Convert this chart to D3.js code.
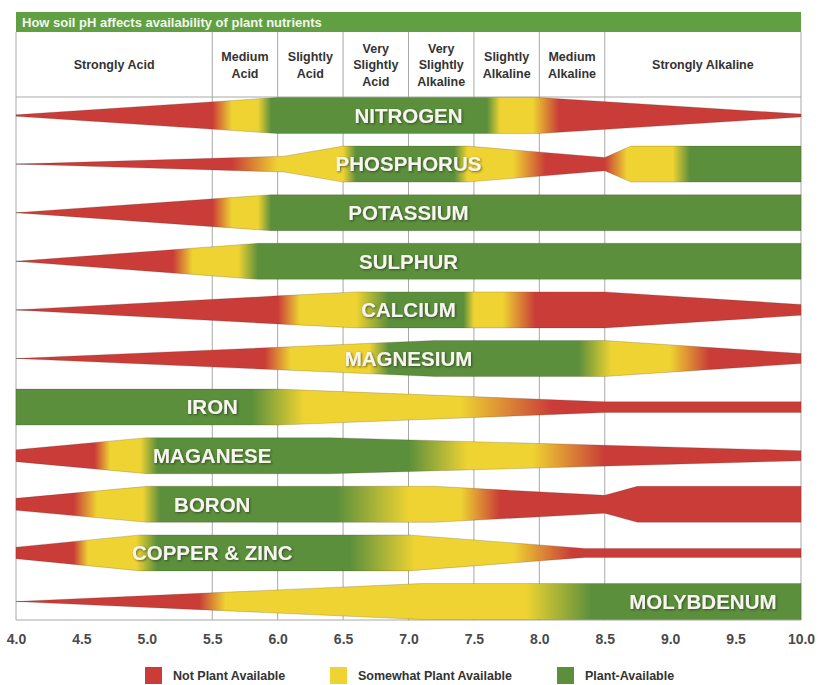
<!DOCTYPE html>
<html><head><meta charset="utf-8">
<script src="https://cdn.jsdelivr.net/npm/d3@7"></script>
<style>body{margin:0;background:#fff}svg{display:block;font-family:"Liberation Sans",Arial,sans-serif}</style>
</head><body><svg id="c" width="820" height="685"></svg>
<script>
const title = "How soil pH affects availability of plant nutrients";
const zoneLabels = [["Strongly Acid"],["Medium","Acid"],["Slightly","Acid"],["Very","Slightly","Acid"],["Very","Slightly","Alkaline"],["Slightly","Alkaline"],["Medium","Alkaline"],["Strongly Alkaline"]];
const zoneBounds = [4,5.5,6,6.5,7,7.5,8,8.5,10];
const phTicks = [4,4.5,5,5.5,6,6.5,7,7.5,8,8.5,9,9.5,10];
const nutrients = ["NITROGEN","PHOSPHORUS","POTASSIUM","SULPHUR","CALCIUM","MAGNESIUM","IRON","MAGANESE","BORON","COPPER & ZINC","MOLYBDENUM"];
const labelPH = [7,7,7,7,7,7,5.5,5.5,5.5,5.5,9.25];
// band thickness profile: [pH, relative thickness]
const widthProfiles = [
  [[4,0.04],[6,1],[8,1],[10,0.08]],
  [[4,0],[6.05,0.44],[6.5,1],[7.45,1],[8.5,0.37],[8.7,1],[10,1]],
  [[4,0],[5.95,1],[10,1]],
  [[4,0],[5.85,1],[10,1]],
  [[4,0],[6,0.78],[6.6,1],[8.5,1],[10,0.3]],
  [[4,0],[7.2,1],[8.5,1],[10,0.28]],
  [[4,1],[6,1],[8.5,0.3],[10,0.3]],
  [[4,0.33],[5,1],[6.4,1],[10,0.28]],
  [[4,0.33],[5,1],[7.2,1],[8.5,0.5],[8.75,1],[10,1]],
  [[4,0.32],[4.95,1],[7,1],[8.35,0.25],[10,0.25]],
  [[4,0],[7.1,1],[10,1]]
];
// availability along pH: [pH, class] 0 = not, 1 = somewhat, 2 = available
const availability = [
  [[4,0],[5.5,0],[5.65,1],[5.85,1],[5.95,2],[7.6,2],[7.7,1],[7.95,1],[8.15,0],[10,0]],
  [[4,0],[5.65,0],[6.0,1],[6.5,1],[6.6,2],[7.35,2],[7.45,1],[7.8,1],[8.05,0],[8.5,0],[8.67,1],[9.02,1],[9.15,2],[10,2]],
  [[4,0],[5.5,0],[5.65,1],[5.85,1],[5.95,2],[10,2]],
  [[4,0],[5.2,0],[5.35,1],[5.7,1],[5.85,2],[10,2]],
  [[4,0],[6.0,0],[6.17,1],[6.6,1],[6.85,2],[7.42,2],[7.5,1],[7.72,1],[7.97,0],[10,0]],
  [[4,0],[5.9,0],[6.1,1],[6.7,1],[6.85,2],[8.3,2],[8.55,1],[9.0,1],[9.3,0],[10,0]],
  [[4,2],[5.8,2],[6.2,1],[7.4,1],[8.1,0],[10,0]],
  [[4,0],[4.6,0],[4.72,1],[4.95,1],[5.08,2],[7.0,2],[7.45,1],[7.95,1],[8.5,0],[10,0]],
  [[4,0],[4.44,0],[4.62,1],[4.97,1],[5.1,2],[6.45,2],[7.0,1],[7.4,1],[7.7,0],[10,0]],
  [[4,0],[4.44,0],[4.55,1],[4.92,1],[5.08,2],[6.55,2],[7.05,1],[7.8,1],[8.25,0],[10,0]],
  [[4,0],[5.4,0],[5.6,1],[7.9,1],[8.4,2],[10,2]]
];
const classes = ["Not Plant Available","Somewhat Plant Available","Plant-Available"];
const classColors = ["#c93c38","#eed332","#5b8f3c"];

const svg = d3.select("#c");
const x = d3.scaleLinear().domain([4,10]).range([16,801]);
const y = d3.scalePoint().domain(nutrients).range([115.5,601.5]);
const hw = d3.scaleLinear().domain([0,1]).range([0,18]);
const headTop = 32, headBot = 97, plotBot = 620;
const gridCol = "#a8a8a8";

const defs = svg.append("defs");
const f = defs.append("filter").attr("id","sh").attr("x","-10%").attr("y","-30%").attr("width","120%").attr("height","160%");
f.append("feDropShadow").attr("dx",1).attr("dy",1).attr("stdDeviation",1).attr("flood-color","#222").attr("flood-opacity",0.6);

// title bar
svg.append("rect").attr("x",x(4)).attr("y",12).attr("width",x(10)-x(4)).attr("height",headTop-12).attr("fill","#60a042");
svg.append("text").attr("x",x(4)+6).attr("y",22.5).attr("dy","0.35em").attr("fill","#f2f6ee")
  .attr("font-size",13).attr("font-weight","bold").text(title);

// grid
const g = svg.append("g").attr("stroke",gridCol).attr("stroke-width",1).attr("fill","none");
g.selectAll("line.v").data(zoneBounds).join("line")
  .attr("x1",d=>x(d)).attr("x2",d=>x(d)).attr("y1",headTop).attr("y2",plotBot);
g.selectAll("line.h").data([headBot, plotBot]).join("line").attr("class","h")
  .attr("x1",x(4)).attr("x2",x(10)).attr("y1",d=>d).attr("y2",d=>d);
g.selectAll("line.r").data(nutrients).join("line").attr("class","r")
  .attr("x1",x(4)).attr("x2",x(10)).attr("y1",d=>y(d)).attr("y2",d=>y(d));

// header labels
zoneLabels.forEach((lines,i)=>{
  const cx = (x(zoneBounds[i])+x(zoneBounds[i+1]))/2;
  const t = svg.append("text").attr("x",cx).attr("text-anchor","middle").attr("fill","#333")
    .attr("font-size",12.5).attr("font-weight","bold");
  lines.forEach((l,j)=>{
    t.append("tspan").attr("x",cx).attr("y",65+(j-(lines.length-1)/2)*16.5).attr("dy","0.35em").text(l);
  });
});

// bands
nutrients.forEach((n,i)=>{
  const gr = defs.append("linearGradient").attr("id","gr"+i).attr("gradientUnits","userSpaceOnUse")
    .attr("x1",x(4)).attr("x2",x(10)).attr("y1",0).attr("y2",0);
  availability[i].forEach(([p,c])=>{
    gr.append("stop").attr("offset",(p-4)/6).attr("stop-color",classColors[c]);
  });
  const area = d3.area().x(d=>x(d[0])).y0(d=>y(n)-hw(d[1])).y1(d=>y(n)+hw(d[1]));
  svg.append("path").attr("d",area(widthProfiles[i])).attr("fill","url(#gr"+i+")")
    .attr("stroke","rgba(60,40,30,0.25)").attr("stroke-width",0.8);
});

// labels
svg.append("g").selectAll("text").data(nutrients).join("text")
  .attr("x",(d,i)=>x(labelPH[i])).attr("y",d=>y(d)).attr("dy","0.36em")
  .attr("text-anchor","middle").attr("font-size",20.5).attr("font-weight","bold")
  .attr("fill","#f6f6ee").attr("filter","url(#sh)").text(d=>d);

// axis
const ax = svg.append("g").attr("transform",`translate(0,${plotBot})`)
  .call(d3.axisBottom(x).tickValues(phTicks).tickFormat(d3.format(".1f")).tickSize(0).tickPadding(14));
ax.select(".domain").remove();
ax.selectAll("text").attr("font-size",14).attr("font-weight","bold").attr("fill","#4a4a4a")
  .attr("font-family","Liberation Sans, Arial, sans-serif");

// legend
const legX = [145,330,557];
const lg = svg.append("g").selectAll("g").data(classes).join("g")
  .attr("transform",(d,i)=>`translate(${legX[i]},667)`);
lg.append("rect").attr("width",17).attr("height",17).attr("fill",(d,i)=>classColors[i]);
lg.append("text").attr("x",28).attr("y",9).attr("dy","0.35em").attr("font-size",12.5)
  .attr("font-weight","bold").attr("fill","#333").text(d=>d);
</script></body></html>
